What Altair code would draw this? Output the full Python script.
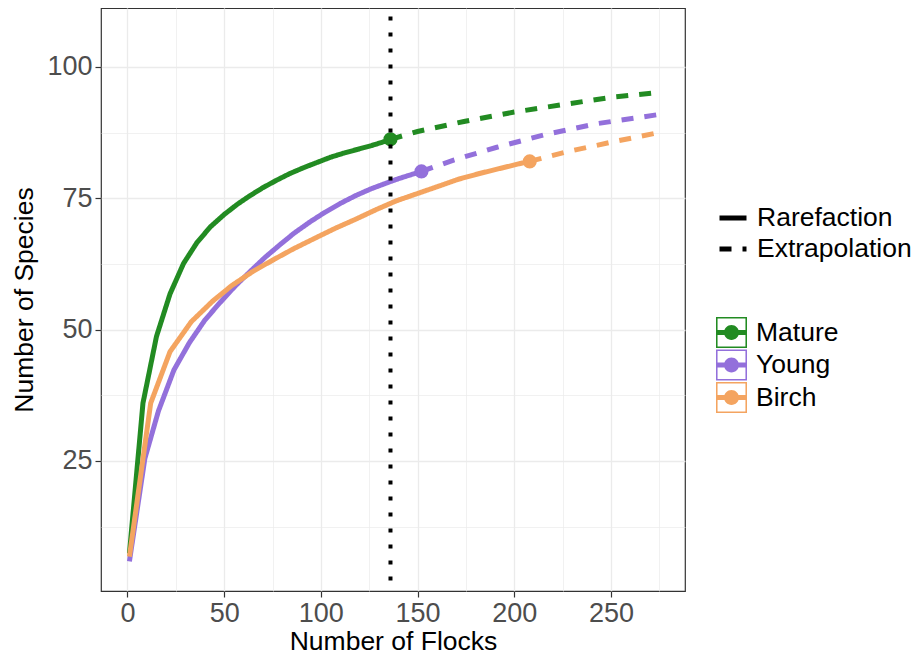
import altair as alt
import pandas as pd

sites = ["Mature", "Young", "Birch"]
site_colors = ["#228B22", "#9370DB", "#F4A460"]
curve_types = ["Rarefaction", "Extrapolation"]

mature_rare_x = [1, 8, 15, 22, 29, 36, 43, 50, 57, 63, 70, 77, 84, 91, 98, 105, 112, 119, 126, 133, 136]
mature_rare_y = [7.4, 36.0, 48.7, 56.8, 62.6, 66.6, 69.6, 71.9, 73.9, 75.4, 77.0, 78.4, 79.7, 80.8, 81.8, 82.8, 83.6, 84.3, 85.0, 85.8, 86.2]
mature_extra_x = [136, 150, 174, 200, 225, 250, 271]
mature_extra_y = [86.2, 87.7, 89.6, 91.4, 92.8, 94.2, 95.0]

young_rare_x = [1, 9, 16, 24, 32, 40, 48, 56, 63, 71, 79, 86, 94, 102, 110, 118, 126, 134, 140, 146, 152]
young_rare_y = [5.9, 25.5, 34.5, 42.3, 47.5, 51.8, 55.2, 58.4, 60.9, 63.7, 66.2, 68.3, 70.4, 72.3, 74.0, 75.5, 76.8, 77.9, 78.7, 79.4, 80.1]
young_extra_x = [152, 169, 191, 217, 243, 267, 274]
young_extra_y = [80.1, 82.3, 84.7, 87.2, 89.2, 90.5, 90.9]

birch_rare_x = [1, 12, 22, 33, 44, 54, 65, 76, 86, 97, 107, 118, 129, 139, 150, 161, 171, 182, 193, 203, 208]
birch_rare_y = [6.8, 36.0, 45.8, 51.5, 55.4, 58.4, 61.1, 63.4, 65.4, 67.4, 69.2, 71.0, 72.9, 74.5, 75.9, 77.3, 78.6, 79.7, 80.7, 81.6, 82.0]
birch_extra_x = [208, 228, 252, 275]
birch_extra_y = [82.0, 83.9, 85.8, 87.5]

obs_x = [136, 152, 208]
obs_y = [86.2, 80.1, 82.0]

ref_x = [136]

x_ticks = [0, 25, 50, 75, 100, 125, 150, 175, 200, 225, 250, 275]
y_ticks = [12.5, 25, 37.5, 50, 62.5, 75, 87.5, 100]
x_domain = [-13.7, 288.3]
y_domain = [0.25, 111.2]

hex_of = dict(zip(sites, site_colors))
rows = []
series = [
    ("Mature", mature_rare_x, mature_rare_y, mature_extra_x, mature_extra_y),
    ("Young", young_rare_x, young_rare_y, young_extra_x, young_extra_y),
    ("Birch", birch_rare_x, birch_rare_y, birch_extra_x, birch_extra_y),
]
for site, rx, ry, ex, ey in series:
    for a, b in zip(rx, ry):
        rows.append({"site": site, "hex": hex_of[site], "type": "Rarefaction", "x": a, "y": b})
    for a, b in zip(ex, ey):
        rows.append({"site": site, "hex": hex_of[site], "type": "Extrapolation", "x": a, "y": b})
lines_df = pd.DataFrame(rows)
obs_df = pd.DataFrame({"site": sites, "x": obs_x, "y": obs_y})
ref_df = pd.DataFrame({"x": ref_x})

FONT = "Liberation Sans"

x_scale = alt.Scale(domain=x_domain, nice=False, zero=False)
y_scale = alt.Scale(domain=y_domain, nice=False, zero=False)

x_axis = alt.Axis(
    title="Number of Flocks",
    values=x_ticks,
    labelExpr="datum.value % 50 === 0 ? datum.label : ''",
    tickOpacity={"condition": {"test": "datum.value % 50 === 0", "value": 1}, "value": 0},
    gridWidth={"condition": {"test": "datum.value % 50 === 0", "value": 1.3}, "value": 0.7},
    labelPadding=3,
    titlePadding=2,
)
y_axis = alt.Axis(
    title="Number of Species",
    values=y_ticks,
    labelExpr="datum.value % 25 === 0 ? datum.label : ''",
    tickOpacity={"condition": {"test": "datum.value % 25 === 0", "value": 1}, "value": 0},
    gridWidth={"condition": {"test": "datum.value % 25 === 0", "value": 1.3}, "value": 0.7},
    labelPadding=3,
    titlePadding=8,
)

dash_legend = alt.Legend(
    title=None,
    orient="none",
    legendX=616,
    legendY=194,
    symbolType="stroke",
    symbolSize=729,
    symbolStrokeWidth=5,
    symbolStrokeColor="black",
    labelFontSize=26.5,
    labelOffset=8,
    rowPadding=1,
    padding=0,
    labelLimit=300,
)

key_path = (
    "M-1,-1H1V1H-1Z M-0.9,-0.9V0.9H0.9V-0.9Z "
    "M-0.9,-0.16H0.9V0.16H-0.9Z "
    "M0.48,0A0.48,0.48 0 1,1 -0.48,0A0.48,0.48 0 1,1 0.48,0Z"
)
color_legend = alt.Legend(
    title=None,
    orient="none",
    legendX=615,
    legendY=309,
    symbolType=key_path,
    symbolSize=961,
    symbolStrokeWidth=0,
    symbolOpacity=1,
    labelFontSize=26.5,
    labelOffset=9,
    rowPadding=1.5,
    padding=0,
    labelLimit=300,
)

lines = alt.Chart(lines_df).mark_line(strokeWidth=5, strokeCap="butt").encode(
    x=alt.X("x:Q", scale=x_scale, axis=x_axis),
    y=alt.Y("y:Q", scale=y_scale, axis=y_axis),
    color=alt.Color("hex:N", scale=None),
    detail="site:N",
    strokeDash=alt.StrokeDash(
        "type:N",
        scale=alt.Scale(domain=curve_types, range=[[1, 0], [12, 11]]),
        legend=dash_legend,
    ),
    order=alt.Order("x:Q"),
)

points = alt.Chart(obs_df).mark_point(filled=True, size=200, opacity=1, shape="circle").encode(
    x=alt.X("x:Q", scale=x_scale),
    y=alt.Y("y:Q", scale=y_scale),
    fill=alt.Fill("site:N", scale=alt.Scale(domain=sites, range=site_colors), legend=color_legend),
)

rule = alt.Chart(ref_df).mark_rule(
    color="black", strokeWidth=4, strokeDash=[4, 12], strokeDashOffset=7.5, strokeCap="butt"
).encode(x=alt.X("x:Q", scale=x_scale))

chart = alt.layer(lines, points, rule).properties(
    width=584,
    height=583,
    autosize=alt.AutoSizeParams(type="none"),
    padding={"left": 93, "top": 0, "right": 228, "bottom": 66},
).configure_view(
    stroke="#333333", strokeWidth=1.2
).configure_axis(
    domain=False,
    grid=True,
    gridColor="#EBEBEB",
    tickColor="#333333",
    tickWidth=1.2,
    tickSize=6,
    labelFont=FONT,
    labelFontSize=27,
    labelColor="#4D4D4D",
    titleFont=FONT,
    titleFontSize=26.5,
    titleColor="black",
    titleFontWeight="normal",
    labelFlush=False,
    labelOverlap=False,
).configure_legend(
    labelFont=FONT,
    labelColor="black",
    symbolBaseStrokeColor="black",
)

chart.save("out.html", embed_options={"renderer": "svg", "actions": False})
